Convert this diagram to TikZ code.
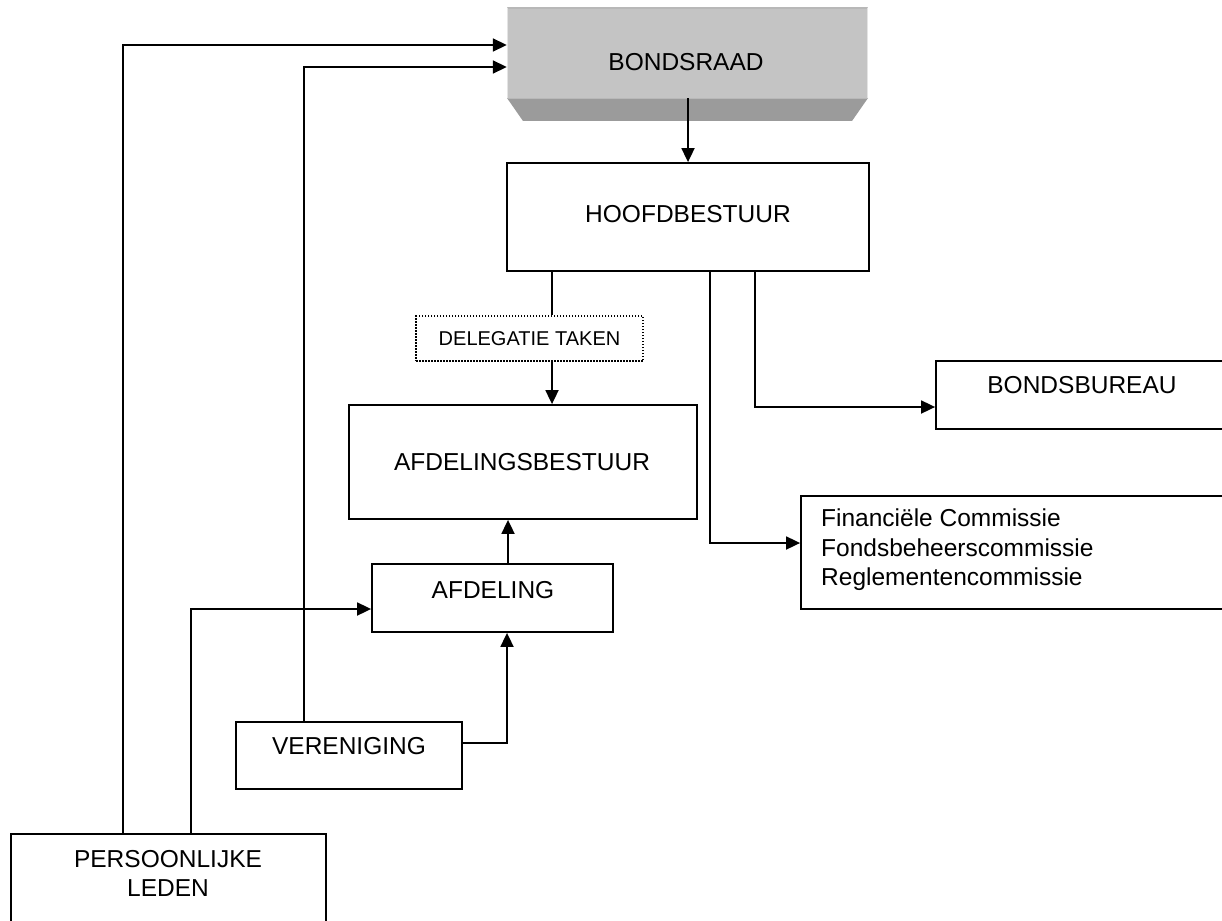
\documentclass[tikz,border=0pt]{standalone}
\usepackage{fontspec}
\setmainfont{Liberation Sans}
\usetikzlibrary{arrows.meta}
\definecolor{face}{HTML}{C4C4C4}
\definecolor{bevel}{HTML}{9B9B9B}
\definecolor{rim}{HTML}{B8B8B8}
\definecolor{hilite}{HTML}{E4E4E4}
\begin{document}
\begin{tikzpicture}[x=1pt,y=-1pt,
  box/.style={draw, line width=1.8pt, rectangle, inner sep=0pt},
  dotbox/.style={draw, line width=1.6pt, dash pattern=on 1.5pt off 1.5pt, rectangle, inner sep=0pt},
  lbl/.style={font=\fontsize{24.5}{29}\selectfont, inner sep=0pt, align=center},
  small/.style={font=\fontsize{20}{24}\selectfont, inner sep=0pt},
  ln/.style={line width=1.8pt},
  arr/.style={line width=1.8pt, -{Triangle[length=14pt,width=13pt]}}]
\useasboundingbox (0,0) rectangle (1222,920);
\clip (0,0) rectangle (1222,920);
\fill[white] (0,0) rectangle (1222,920);

% BONDSRAAD (bevelled grey block)
\fill[bevel] (507,98) -- (868,98) -- (852,121) -- (523,121) -- cycle;
\node[fill=face, minimum width=361pt, minimum height=91pt, inner sep=0pt] (br) at (687.5,52.5) {};
\draw[rim, line width=2pt] (508,8) -- (867,8);
\draw[hilite, line width=1.5pt] (507.5,8) -- (507.5,98);
\draw[hilite, line width=1.5pt] (867.5,8) -- (867.5,98);
\draw[rim, line width=1.5pt] (507,98.5) -- (868,98.5);
\node[lbl] (brt) at (686,62) {BONDSRAAD};

% boxes
\node[box, minimum width=362pt, minimum height=108pt] (hb) at (688,217) {};
\node[lbl] (hbt) at (688,214) {HOOFDBESTUUR};

\node[dotbox, minimum width=227pt, minimum height=45pt] (dt) at (529.5,338.5) {};
\node[small] (dtt) at (529.5,339) {DELEGATIE TAKEN};

\node[box, minimum width=348pt, minimum height=114pt] (ab) at (523,462) {};
\node[lbl] (abt) at (522,462) {AFDELINGSBESTUUR};

\node[box, minimum width=241pt, minimum height=68pt] (afd) at (492.5,598) {};
\node[lbl] (afdt) at (493,590) {AFDELING};

\node[box, minimum width=226pt, minimum height=67pt] (ver) at (349,755.5) {};
\node[lbl] (vert) at (349,746) {VERENIGING};

\node[box, minimum width=315pt, minimum height=110pt] (pl) at (168.5,889) {};
\node[lbl] (plt) at (168,873.5) {PERSOONLIJKE\\LEDEN};

\node[box, minimum width=310pt, minimum height=68pt] (bb) at (1091,395) {};
\node[lbl] (bbt) at (1082,385) {BONDSBUREAU};

\node[box, minimum width=440pt, minimum height=113pt] (fc) at (1021,552.5) {};
\node[font=\fontsize{24.5}{29.5}\selectfont, inner sep=0pt, align=left, anchor=west] (fct) at (821,550)
  {Financiële Commissie\\Fondsbeheerscommissie\\Reglementencommissie};

% connector bends
\coordinate (c1) at (552,0);
\coordinate (k1) at (123,45);
\coordinate (k2) at (304,67);
\coordinate (k3) at (191,609);
\coordinate (k4) at (755,407);
\coordinate (k5) at (710,543);
\coordinate (v1) at (507,743);
\coordinate (a1) at (508,0);

% connectors
\draw[arr] (br.south -| hb.north) -- (hb.north);
\draw[ln] (hb.south -| c1) -- (dt.north -| c1);
\draw[arr] (dt.south -| c1) -- (ab.north -| c1);
\draw[arr] (afd.north -| a1) -- (ab.south -| a1);
\draw[arr] (ver.east |- v1) -- (v1) -- (v1 |- afd.south);
\draw[arr] (ver.north -| k2) -- (k2) -- (k2 -| br.west);
\draw[arr] (pl.north -| k1) -- (k1) -- (k1 -| br.west);
\draw[arr] (pl.north -| k3) -- (k3) -- (k3 -| afd.west);
\draw[arr] (hb.south -| k4) -- (k4) -- (k4 -| bb.west);
\draw[arr] (hb.south -| k5) -- (k5) -- (k5 -| fc.west);
\end{tikzpicture}
\end{document}
